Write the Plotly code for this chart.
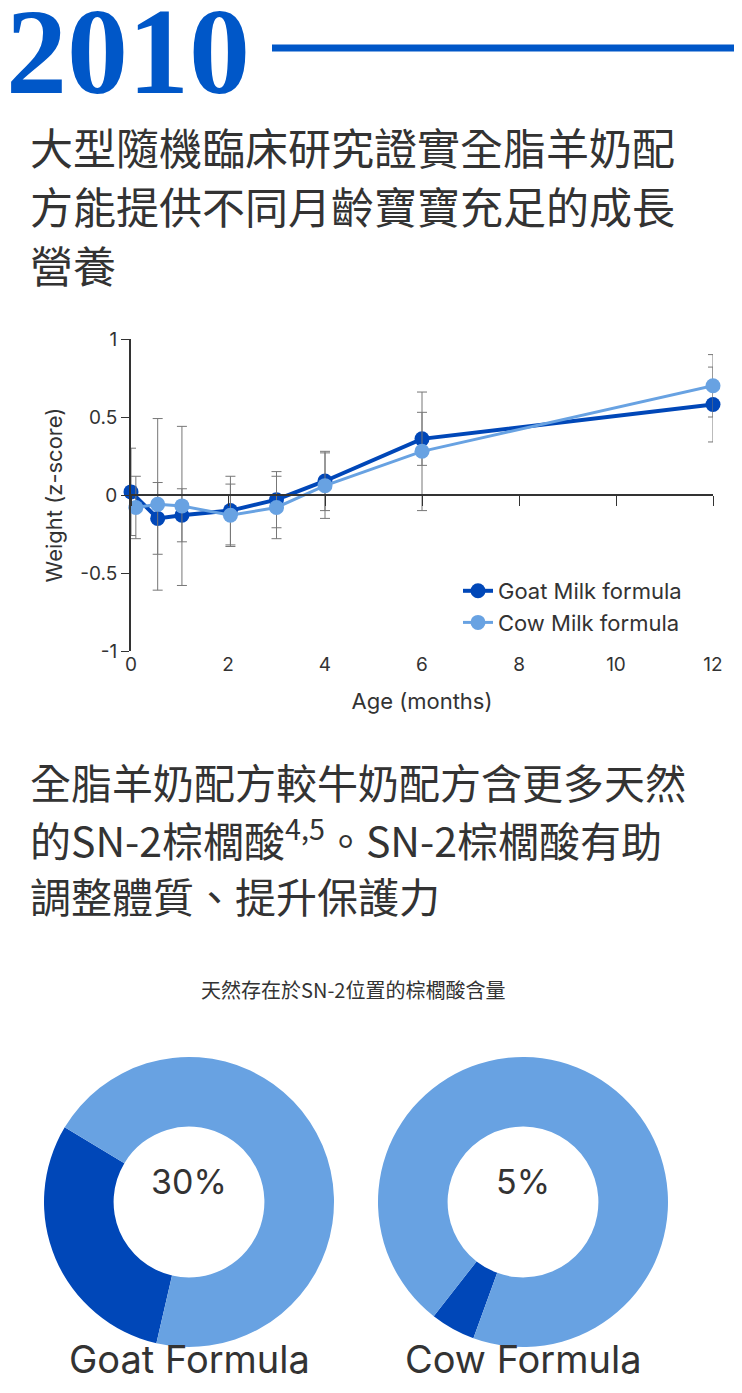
import plotly.graph_objects as go

W, H = 742, 1393

# line chart data
ages_goat = [0, 0.55, 1.05, 2.05, 3, 4, 6, 12]
ages_cow = [0.1, 0.55, 1.05, 2.05, 3, 4, 6, 12]
goat = [0.02, -0.15, -0.13, -0.10, -0.03, 0.09, 0.36, 0.58]
goat_err = [0.28, 0.23, 0.17, 0.22, 0.18, 0.19, 0.17, 0.24]
cow = [-0.08, -0.06, -0.07, -0.13, -0.08, 0.06, 0.28, 0.70]
cow_err = [0.20, 0.55, 0.51, 0.20, 0.20, 0.21, 0.38, 0.20]
x_ticks = [0, 2, 4, 6, 8, 10, 12]
y_ticks = [-1, -0.5, 0, 0.5, 1]
y_tick_text = ["-1", "-0.5", "0", "0.5", "1"]

# donut data
pie_labels = ["SN-2", "other"]
goat_pct = [30, 70]
cow_pct = [5, 95]

DARK = "#0047b8"
LIGHT = "#68a2e2"
TXT = "#333333"
CJK = "Noto Sans CJK TC"


def px_x(p):
    return p / W


def px_y(p):
    return 1 - p / H


fig = go.Figure()

err_style = dict(type="data", thickness=1, width=5, color="#777777")
fig.add_trace(go.Scatter(
    x=ages_goat, y=goat, mode="lines+markers", name="Goat Milk formula",
    line=dict(color=DARK, width=4), marker=dict(size=15, color=DARK),
    error_y=dict(array=goat_err, **err_style), cliponaxis=False))
fig.add_trace(go.Scatter(
    x=ages_cow, y=cow, mode="lines+markers", name="Cow Milk formula",
    line=dict(color=LIGHT, width=3), marker=dict(size=15, color=LIGHT),
    error_y=dict(array=cow_err, **err_style), cliponaxis=False))
# invisible trace to drive the zero-line axis with ticks
fig.add_trace(go.Scatter(x=[0, 12], y=[0, 0], xaxis="x2", mode="lines",
                         line=dict(color="rgba(0,0,0,0)"), showlegend=False,
                         hoverinfo="skip"))

for vals, cx, rot in [(goat_pct, 181, 193), (cow_pct, 515, 200)]:
    r = 145
    fig.add_trace(go.Pie(
        labels=pie_labels, values=vals, hole=0.52, sort=False,
        direction="clockwise", rotation=rot, textinfo="none",
        marker=dict(colors=[DARK, LIGHT]), showlegend=False,
        domain=dict(x=[px_x(cx - r), px_x(cx + r)],
                    y=[px_y(1194 + r), px_y(1194 - r)])))

ydom = [px_y(643), px_y(331)]
xdom = [px_x(123), px_x(705)]
fig.update_layout(
    width=W, height=H, margin=dict(l=0, r=0, t=0, b=0, autoexpand=False),
    paper_bgcolor="white", plot_bgcolor="white",
    font=dict(family=f"Inter, {CJK}", color=TXT),
    xaxis=dict(domain=xdom, range=[0, 12], tickvals=x_ticks, showgrid=False,
               zeroline=False, showline=False, ticks="", automargin=False,
               tickfont=dict(size=19, color=TXT),
               title=dict(text="Age (months)", font=dict(size=22, color=TXT), standoff=18)),
    xaxis2=dict(domain=xdom, range=[0, 12], overlaying="x", anchor="free",
                position=px_y(487), side="bottom", tickvals=x_ticks,
                showticklabels=False, ticks="outside", ticklen=10, automargin=False,
                tickcolor="#333", showline=True, linecolor="#333",
                linewidth=1.5, showgrid=False, zeroline=False),
    yaxis=dict(domain=ydom, range=[-1, 1], tickvals=y_ticks, ticktext=y_tick_text,
               showgrid=False, zeroline=False, showline=True, linecolor="#333",
               linewidth=2, ticks="outside", ticklen=8, tickcolor="#333",
               automargin=False, tickfont=dict(size=19, color=TXT),
               title=dict(text="Weight (z-score)", font=dict(size=22, color=TXT), standoff=12)),
    legend=dict(x=px_x(450), y=px_y(562), xanchor="left", yanchor="top",
                bgcolor="rgba(0,0,0,0)", font=dict(size=22, color=TXT),
                itemwidth=30, tracegroupgap=0),
)

# year header
fig.add_annotation(x=px_x(-4), y=px_y(44), xref="paper", yref="paper", xanchor="left",
                   yanchor="middle", showarrow=False,
                   text="<b>2010</b>",
                   font=dict(family="Liberation Serif, DejaVu Serif", size=122, color="#0057c8"))
fig.add_shape(type="line", xref="paper", yref="paper",
              x0=px_x(264), x1=px_x(742), y0=px_y(40), y1=px_y(40),
              line=dict(color="#0057c8", width=7))

heading1 = ["大型隨機臨床研究證實全脂羊奶配", "方能提供不同月齡寶寶充足的成長", "營養"]
for i, t in enumerate(heading1):
    fig.add_annotation(x=px_x(20), y=px_y(138 + 59 * i), xref="paper", yref="paper",
                       xanchor="left", yanchor="middle", showarrow=False, text=t,
                       font=dict(family=CJK, size=43, color=TXT))

heading2 = ["全脂羊奶配方較牛奶配方含更多天然",
            "的SN-2棕櫚酸<sup>4,5</sup>。SN-2棕櫚酸有助",
            "調整體質、提升保護力"]
for i, t in enumerate(heading2):
    fig.add_annotation(x=px_x(20), y=px_y(773 + 57 * i), xref="paper", yref="paper",
                       xanchor="left", yanchor="middle", showarrow=False, text=t,
                       font=dict(family=CJK, size=41, color=TXT))

fig.add_annotation(x=px_x(345), y=px_y(998), xref="paper", yref="paper",
                   xanchor="center", showarrow=False, text="天然存在於SN-2位置的棕櫚酸含量",
                   font=dict(family=CJK, size=20, color=TXT))

for cx, pct, name in [(181, "30%", "Goat Formula"), (515, "5%", "Cow Formula")]:
    fig.add_annotation(x=px_x(cx), y=px_y(1196), xref="paper", yref="paper",
                       xanchor="center", showarrow=False, text=pct,
                       font=dict(size=34, color=TXT))
    fig.add_annotation(x=px_x(cx), y=px_y(1376), xref="paper", yref="paper",
                       xanchor="center", showarrow=False, text=name,
                       font=dict(size=38, color=TXT))

fig.write_html("out.html")
